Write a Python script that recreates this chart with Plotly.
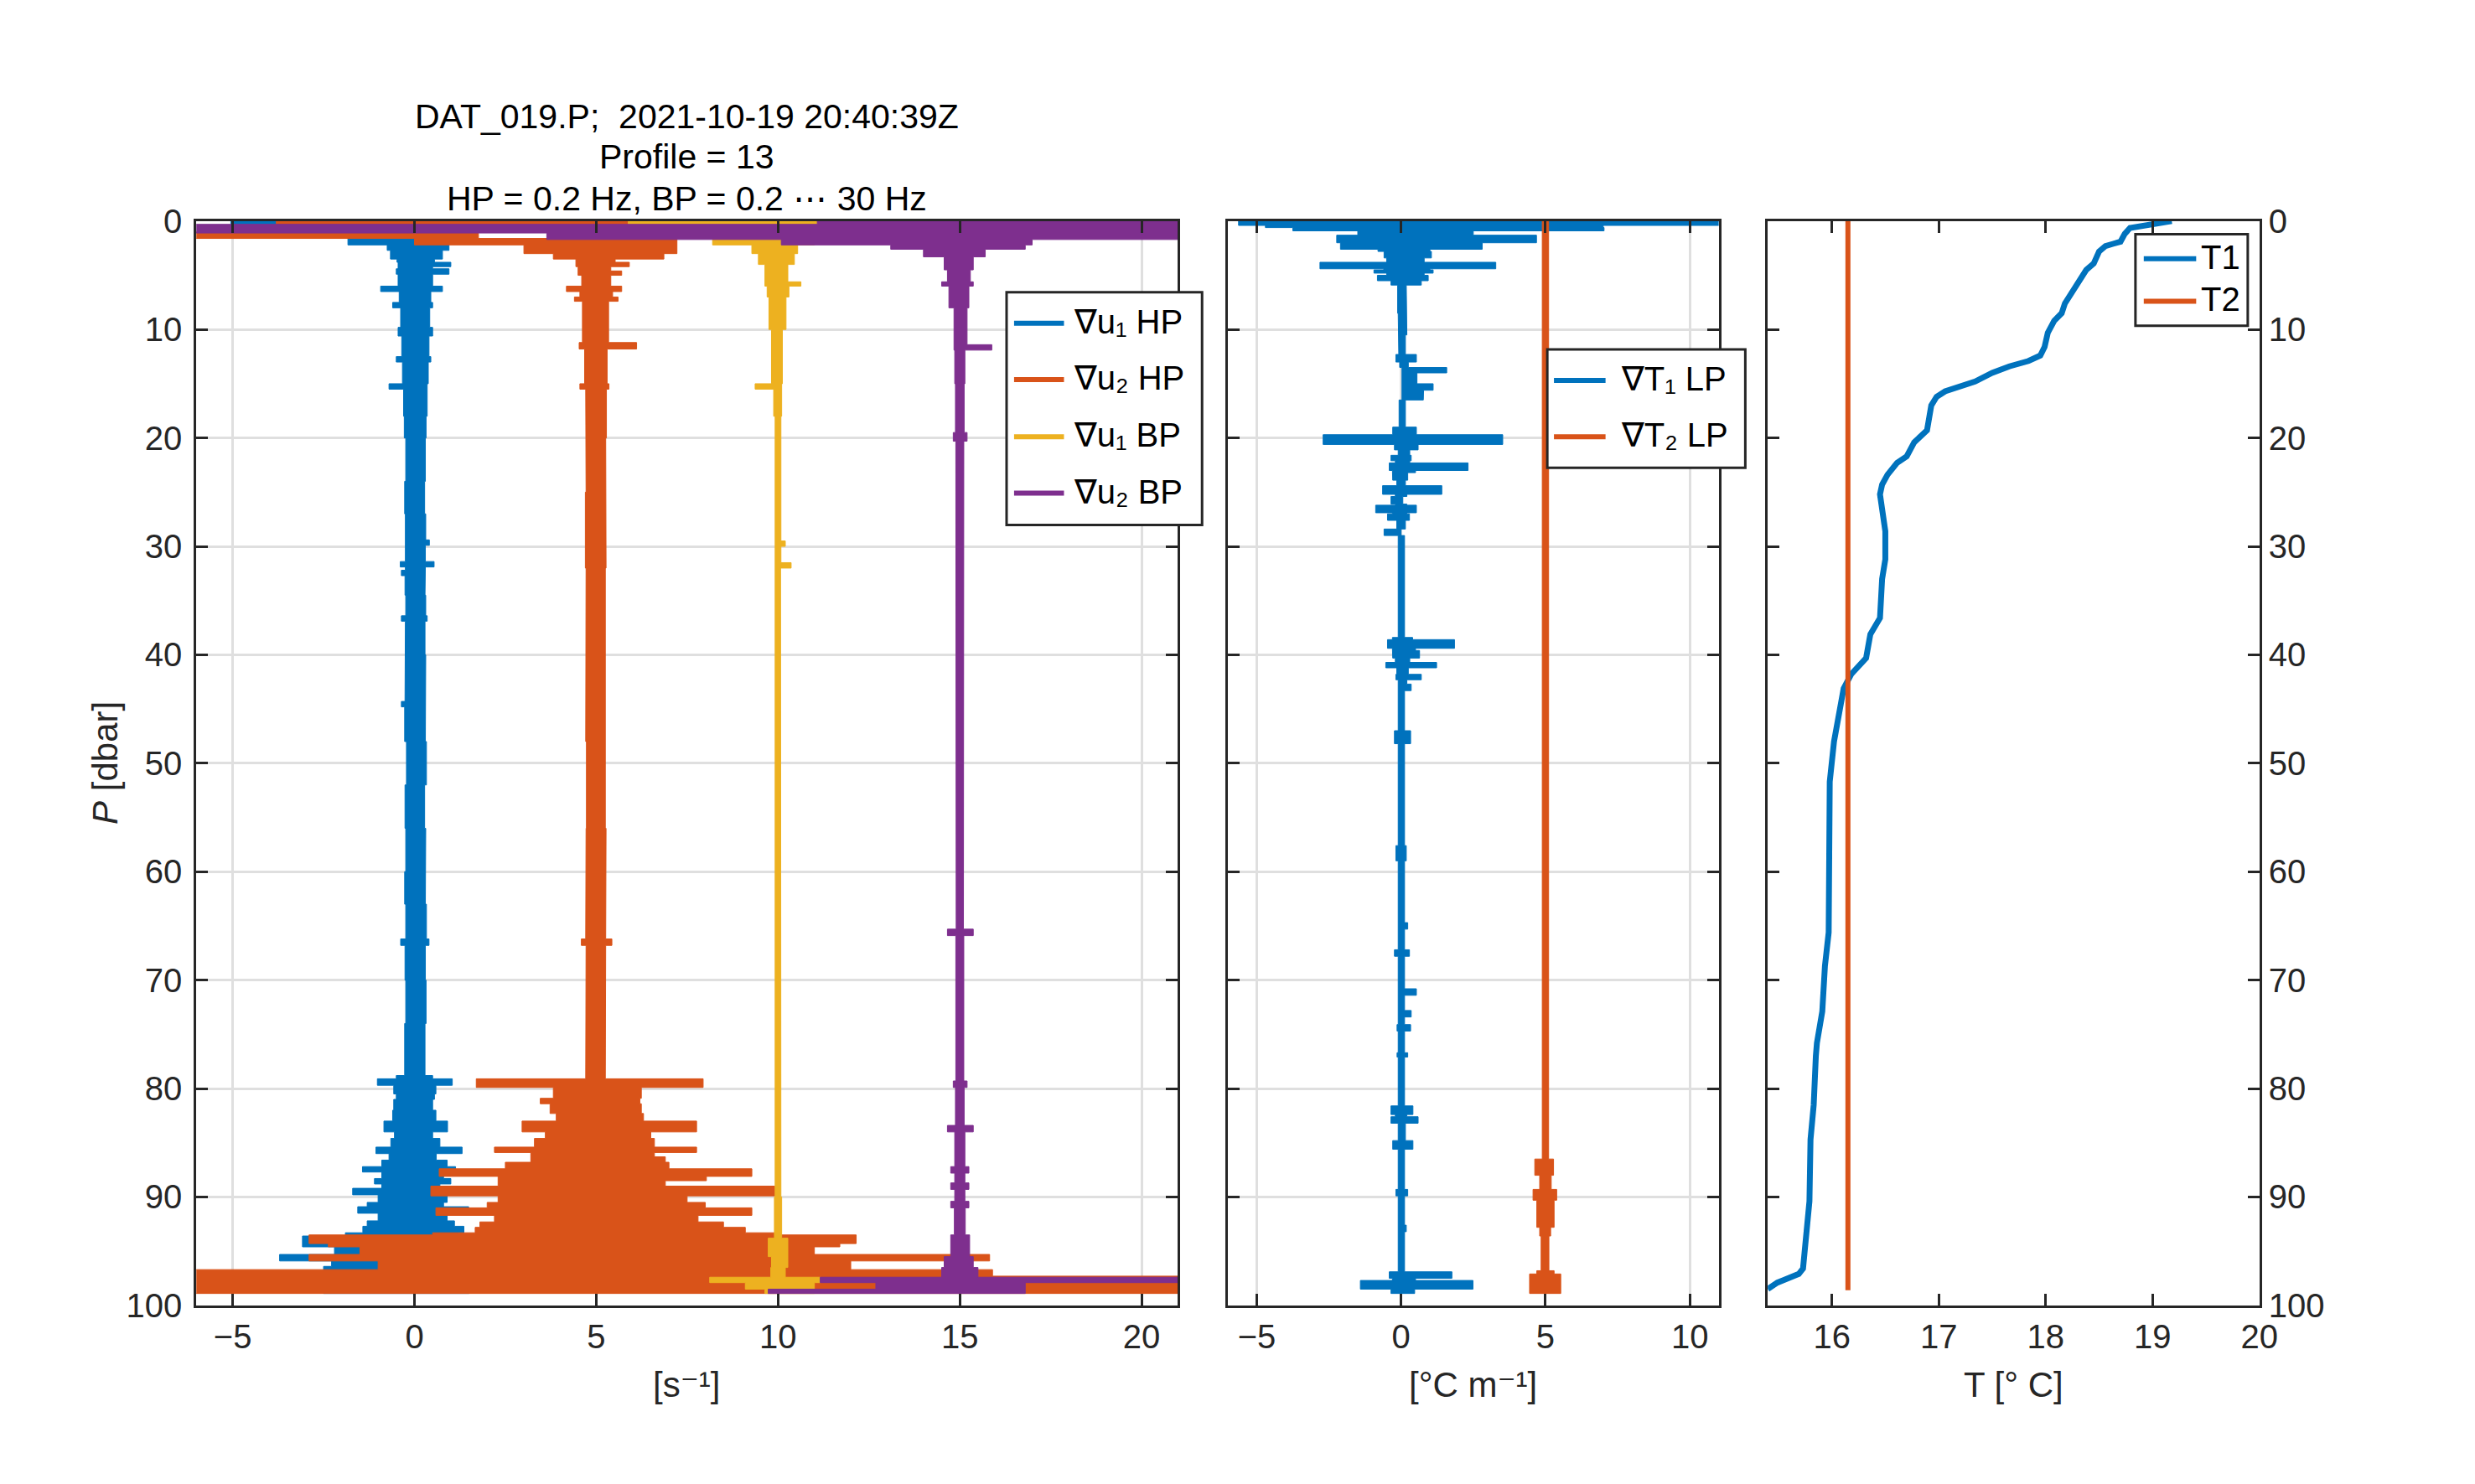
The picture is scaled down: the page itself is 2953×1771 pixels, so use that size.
import plotly.graph_objects as go

# ------------------------------------------------------------------
# DATA
# Each noisy profile is described by its envelope over depth intervals:
#   *_p  : interval boundaries [dbar]   (len n+1)
#   *_lo : left extent of the signal in each interval  (len n)
#   *_hi : right extent of the signal in each interval (len n)
# Values are as plotted (offsets 0, 5, 10, 15 already included).
# ------------------------------------------------------------------

# grad u1 HP (blue, offset 0)
u1hp_p = [0.0, 0.3, 1.5, 2.2, 2.7, 3.5, 3.8, 4.2, 4.4, 4.9,
          6.0, 6.5, 7.5, 8.0, 9.8, 10.6, 12.5, 13.0, 15.0, 15.5,
          18.0, 20.0, 24.0, 27.0, 29.4, 29.9, 31.4, 31.9, 32.2, 32.7,
          34.5, 36.4, 36.9, 40.0, 44.3, 44.8, 48.0, 52.0, 56.0, 60.0,
          63.0, 66.2, 66.8, 70.0, 74.0, 78.8, 79.1, 79.7, 80.5, 81.0,
          82.0, 83.0, 84.0, 84.6, 85.4, 86.0, 86.6, 87.2, 87.7, 88.3,
          88.8, 89.2, 89.8, 90.5, 90.9, 91.5, 92.2, 92.7, 93.3, 93.6,
          94.6, 95.3, 95.9, 96.4, 98.9]
u1hp_lo = [-5.05, -1.5, -1.83, -0.75, -0.66, -0.48, -0.45, -0.45, -0.5, -0.45,
           -0.93, -0.42, -0.6, -0.38, -0.45, -0.35, -0.5, -0.33, -0.7, -0.3,
           -0.28, -0.24, -0.27, -0.25, -0.25, -0.25, -0.39, -0.25, -0.36, -0.26,
           -0.24, -0.36, -0.25, -0.26, -0.36, -0.27, -0.22, -0.26, -0.24, -0.27,
           -0.24, -0.38, -0.26, -0.24, -0.27, -0.5, -1.02, -0.57, -0.5, -0.57,
           -0.6, -0.84, -0.55, -0.65, -1.06, -0.7, -0.9, -1.43, -0.9, -1.1,
           -0.9, -1.70, -1.0, -1.3, -1.56, -1.0, -1.3, -1.42, -1.9, -3.08,
           -2.2, -3.71, -2.28, -2.5]
u1hp_hi = [0.8, 1.0, 0.95, 0.95, 0.77, 0.55, 1.0, 0.5, 0.95, 0.5,
           0.77, 0.45, 0.5, 0.42, 0.5, 0.4, 0.45, 0.38, 0.35, 0.35,
           0.32, 0.30, 0.28, 0.31, 0.41, 0.30, 0.54, 0.30, 0.30, 0.29,
           0.31, 0.35, 0.29, 0.31, 0.30, 0.30, 0.33, 0.28, 0.31, 0.30,
           0.33, 0.40, 0.30, 0.32, 0.29, 0.5, 1.04, 0.59, 0.55, 0.5,
           0.59, 0.91, 0.5, 0.7, 1.31, 0.6, 0.9, 1.13, 0.8, 1.0,
           0.7, 1.40, 0.9, 0.8, 1.49, 0.9, 1.1, 1.36, 1.2, 1.3,
           1.3, 1.5, 1.2, 1.5]

# grad u2 HP (orange, offset 5)
u2hp_p = [0.0, 0.3, 1.0, 1.6, 2.2, 3.0, 3.5, 3.8, 4.2, 4.6,
          5.0, 6.0, 6.5, 7.0, 7.4, 11.2, 11.8, 15.0, 15.5, 20.0,
          25.0, 32.0, 40.0, 48.0, 56.0, 62.0, 66.2, 66.8, 72.0, 79.1,
          79.9, 80.9, 81.4, 82.3, 83.0, 84.0, 84.6, 85.4, 85.9, 86.3,
          86.8, 87.4, 88.1, 88.5, 89.0, 89.9, 90.5, 91.0, 91.7, 92.3,
          92.8, 93.3, 93.5, 94.3, 94.6, 95.3, 95.9, 96.7, 97.3, 98.9]
u2hp_lo = [-3.8, 0.0, -6.5, 0.0, 3.01, 3.82, 4.44, 4.44, 4.5, 4.5,
           4.6, 4.18, 4.55, 4.4, 4.62, 4.53, 4.68, 4.55, 4.71, 4.72,
           4.70, 4.72, 4.71, 4.73, 4.72, 4.71, 4.59, 4.72, 4.71, 1.70,
           3.82, 3.46, 3.73, 3.90, 2.96, 3.60, 3.30, 2.20, 3.20, 3.20,
           2.50, 0.68, 2.30, 2.30, 0.45, 2.30, 2.00, 0.59, 2.20, 1.80,
           1.67, 0.50, -2.90, -2.37, -1.50, -2.90, -1.00, -6.5, -6.5]
u2hp_hi = [5.88, 8.0, 1.76, 7.22, 7.22, 6.86, 5.52, 5.91, 5.4, 5.7,
           5.4, 5.7, 5.45, 5.6, 5.34, 6.11, 5.30, 5.35, 5.28, 5.26,
           5.27, 5.25, 5.26, 5.25, 5.27, 5.26, 5.43, 5.26, 5.25, 7.94,
           6.24, 6.20, 6.24, 6.30, 7.76, 6.50, 6.60, 7.76, 6.60, 6.90,
           7.00, 9.28, 8.03, 6.90, 9.91, 7.50, 8.00, 9.28, 7.80, 8.50,
           9.10, 10.0, 12.15, 11.7, 11.0, 15.82, 12.0, 15.9, 21.5]

# grad u1 BP (yellow, offset 10)
u1bp_p = [0.0, 0.3, 1.6, 2.2, 3.0, 4.0, 5.6, 6.0, 7.0, 10.0,
          15.0, 15.5, 18.0, 29.5, 30.0, 31.5, 32.0, 44.0, 60.0, 80.0,
          90.0, 93.8, 95.5, 96.5, 97.4, 97.9, 98.5, 98.9]
u1bp_lo = [5.88, 8.5, 8.2, 9.28, 9.46, 9.64, 9.64, 9.70, 9.75, 9.82,
           9.37, 9.88, 9.92, 9.92, 9.92, 9.92, 9.93, 9.92, 9.93, 9.92,
           9.90, 9.73, 9.82, 9.80, 8.12, 9.10, 9.64]
u1bp_hi = [11.08, 11.0, 11.0, 10.54, 10.45, 10.27, 10.63, 10.30, 10.22, 10.12,
           10.10, 10.10, 10.08, 10.20, 10.08, 10.36, 10.07, 10.07, 10.08, 10.08,
           10.10, 10.27, 10.27, 10.20, 11.16, 11.0, 11.0]

# grad u2 BP (purple, offset 15)
u2bp_p = [0.0, 0.3, 1.1, 1.7, 2.2, 2.6, 3.3, 4.5, 5.6, 6.0,
          8.0, 11.4, 11.9, 15.0, 19.5, 20.3, 40.0, 65.3, 65.9, 79.3,
          79.9, 83.4, 84.0, 87.2, 87.8, 88.7, 89.3, 90.4, 91.0, 93.5,
          95.5, 96.5, 97.4, 97.9, 98.5, 98.9]
u2bp_lo = [11.08, -6.5, 3.64, 10.09, 13.1, 14.0, 14.57, 14.66, 14.50, 14.70,
           14.84, 14.84, 14.86, 14.88, 14.82, 14.89, 14.90, 14.66, 14.89, 14.82,
           14.88, 14.66, 14.86, 14.75, 14.86, 14.75, 14.86, 14.75, 14.85, 14.75,
           14.57, 14.50, 11.16, 12.69, 9.73]
u2bp_hi = [21.5, 21.5, 21.5, 16.99, 16.8, 15.7, 15.37, 15.29, 15.37, 15.25,
           15.20, 15.88, 15.14, 15.12, 15.20, 15.11, 15.10, 15.37, 15.11, 15.20,
           15.12, 15.37, 15.14, 15.25, 15.14, 15.25, 15.14, 15.25, 15.15, 15.27,
           15.37, 15.50, 21.5, 16.8, 16.8]

# grad T1 LP (blue, offset 0)
t1lp_p = [0.0, 0.4, 0.6, 0.9, 1.3, 2.0, 2.6, 2.8, 3.4, 3.8,
          4.4, 4.5, 4.8, 5.0, 5.5, 5.9, 8.5, 10.5, 12.3, 13.0,
          13.5, 14.0, 14.4, 15.0, 15.6, 16.0, 16.5, 19.0, 19.7, 20.6,
          21.1, 21.6, 22.1, 22.3, 23.0, 23.2, 23.9, 24.4, 25.2, 25.4,
          26.1, 26.2, 26.9, 27.0, 27.6, 28.4, 29.0, 38.4, 38.6, 39.4,
          39.6, 40.3, 40.7, 41.2, 41.8, 42.3, 42.7, 43.3, 47.0, 48.2,
          57.6, 59.0, 64.7, 65.3, 67.2, 67.8, 70.8, 71.4, 72.8, 73.4,
          74.1, 74.7, 76.7, 77.1, 81.6, 82.4, 82.6, 83.2, 84.8, 85.6,
          89.3, 89.9, 92.6, 93.2, 96.9, 97.5, 97.7, 98.5, 98.9]
t1lp_lo = [-5.63, -4.7, -3.75, -1.5, -2.23, -2.1, -0.8, -0.59, -0.5, -2.81,
           -0.6, -0.94, -0.5, -0.82, -0.35, -0.12, -0.10, -0.08, -0.18, -0.05,
           0.03, 0.03, 0.03, 0.03, 0.03, 0.03, -0.07, -0.29, -2.70, -0.23,
           -0.10, -0.35, -0.20, -0.41, -0.30, -0.29, -0.15, -0.64, -0.20, -0.35,
           -0.20, -0.88, -0.30, -0.47, -0.15, -0.59, -0.10, -0.30, -0.47, -0.30,
           -0.29, -0.20, -0.53, -0.15, -0.18, -0.10, -0.12, -0.10, -0.23, -0.10,
           -0.18, -0.10, -0.10, -0.10, -0.23, -0.10, -0.12, -0.10, -0.12, -0.10,
           -0.14, -0.10, -0.14, -0.10, -0.35, -0.20, -0.35, -0.10, -0.29, -0.10,
           -0.18, -0.10, -0.12, -0.10, -0.41, -0.30, -1.41, -0.35]
t1lp_hi = [11.5, 7.0, 7.03, 2.5, 4.69, 2.81, 1.0, 1.05, 0.8, 3.28,
           1.0, 1.11, 0.8, 0.94, 0.70, 0.18, 0.20, 0.15, 0.53, 0.25,
           1.58, 0.55, 0.55, 1.11, 0.78, 0.77, 0.15, 0.53, 3.52, 0.59,
           0.30, 0.35, 0.30, 2.32, 0.50, 0.23, 0.15, 1.41, 0.20, 0.06,
           0.20, 0.53, 0.20, 0.29, 0.15, 0.00, 0.12, 0.40, 1.85, 0.50,
           0.64, 0.30, 1.23, 0.25, 0.70, 0.20, 0.35, 0.12, 0.33, 0.12,
           0.18, 0.12, 0.23, 0.12, 0.29, 0.12, 0.53, 0.12, 0.35, 0.12,
           0.33, 0.12, 0.23, 0.12, 0.41, 0.20, 0.59, 0.15, 0.41, 0.12,
           0.23, 0.12, 0.18, 0.12, 1.76, 0.50, 2.49, 0.47]

# grad T2 LP (orange, offset 5)
t2lp_p = [0.0, 20.0, 60.0, 86.5, 88.0, 89.3, 90.3, 92.8, 93.6, 96.8, 97.1, 98.9]
t2lp_lo = [4.89, 4.90, 4.89, 4.63, 4.80, 4.57, 4.70, 4.80, 4.85, 4.70, 4.45]
t2lp_hi = [5.11, 5.10, 5.11, 5.28, 5.20, 5.39, 5.30, 5.18, 5.12, 5.30, 5.53]

# Temperature profiles
T1_P = [0.0, 0.26, 0.63, 1.18, 1.9, 2.1, 2.3, 2.8, 3.9, 4.5, 5.6, 6.5, 7.6, 8.5, 9.2,
        10.3, 11.6, 12.4, 12.9, 13.4, 14.0, 14.8, 15.3, 15.7, 16.2, 17.0, 19.3, 19.7,
        20.4, 21.7, 22.3, 23.4, 24.3, 25.2, 27.1, 28.6, 31.2, 33.0, 36.6, 38.1, 40.3,
        41.4, 41.8, 43.1, 46.2, 48.0, 51.7, 55.6, 65.6, 68.7, 72.9, 75.8, 77.0, 81.5,
        84.7, 90.4, 93.9, 96.6, 97.1, 97.5, 97.9, 98.5]
T1_T = [19.18, 19.00, 18.79, 18.74, 18.70, 18.63, 18.56, 18.50, 18.45, 18.38, 18.31,
        18.24, 18.18, 18.15, 18.08, 18.02, 17.99, 17.95, 17.84, 17.66, 17.50, 17.34,
        17.20, 17.06, 16.98, 16.93, 16.89, 16.84, 16.77, 16.70, 16.61, 16.52, 16.47,
        16.45, 16.48, 16.50, 16.50, 16.47, 16.45, 16.36, 16.32, 16.23, 16.18, 16.11,
        16.05, 16.02, 15.98, 15.975, 15.97, 15.935, 15.91, 15.86, 15.85, 15.83, 15.80,
        15.79, 15.76, 15.73, 15.69, 15.57, 15.49, 15.40]
T2_P = [0.0, 98.6]
T2_T = [16.15, 16.15]

# Tick values
p_ticks = [0, 10, 20, 30, 40, 50, 60, 70, 80, 90, 100]
shear_ticks = [-5, 0, 5, 10, 15, 20]
grad_ticks = [-5, 0, 5, 10]
temp_ticks = [16, 17, 18, 19, 20]

# ------------------------------------------------------------------
# STYLE / LAYOUT
# ------------------------------------------------------------------
W, H = 2953, 1771
FONT = "Liberation Sans, Arial, Helvetica, DejaVu Sans, sans-serif"
AX = "#262626"
GRID = "#DFDFDF"
BLUE, ORANGE, YELLOW, PURPLE = "#0072BD", "#D95319", "#EDB120", "#7E2F8E"

L_X0, L_X1 = 236, 1416
M_X0, M_X1 = 1476, 2066
R_X0, R_X1 = 2125, 2716
Y_TOP, Y_BOT = 248, 1575


def fx(x):
    return x / W


def fy(y):
    return 1 - y / H


def band_polygon(p, lo, hi):
    assert len(p) == len(lo) + 1 == len(hi) + 1
    xs, ys = [], []
    for i in range(len(lo)):
        xs += [hi[i], hi[i]]
        ys += [p[i], p[i + 1]]
    for i in range(len(lo) - 1, -1, -1):
        xs += [lo[i], lo[i]]
        ys += [p[i + 1], p[i]]
    xs.append(xs[0])
    ys.append(ys[0])
    return xs, ys


fig = go.Figure()

bands = [
    ("∇u₁ HP", u1hp_p, u1hp_lo, u1hp_hi, BLUE, "x", "y"),
    ("∇u₂ HP", u2hp_p, u2hp_lo, u2hp_hi, ORANGE, "x", "y"),
    ("∇u₁ BP", u1bp_p, u1bp_lo, u1bp_hi, YELLOW, "x", "y"),
    ("∇u₂ BP", u2bp_p, u2bp_lo, u2bp_hi, PURPLE, "x", "y"),
    ("∇T₁ LP", t1lp_p, t1lp_lo, t1lp_hi, BLUE, "x2", "y2"),
    ("∇T₂ LP", t2lp_p, t2lp_lo, t2lp_hi, ORANGE, "x2", "y2"),
]
for name, p, lo, hi, col, xa, ya in bands:
    xs, ys = band_polygon(p, lo, hi)
    fig.add_trace(go.Scatter(x=xs, y=ys, mode="lines", fill="toself",
                             fillcolor=col, line=dict(color=col, width=1),
                             name=name, showlegend=False, hoverinfo="skip",
                             xaxis=xa, yaxis=ya))

fig.add_trace(go.Scatter(x=T1_T, y=T1_P, mode="lines", name="T1",
                         line=dict(color=BLUE, width=7), showlegend=False,
                         xaxis="x3", yaxis="y3"))
fig.add_trace(go.Scatter(x=T2_T, y=T2_P, mode="lines", name="T2",
                         line=dict(color=ORANGE, width=6), showlegend=False,
                         xaxis="x3", yaxis="y3"))

common = dict(showline=True, linewidth=3, linecolor=AX, mirror="ticks",
              ticks="inside", ticklen=14, tickwidth=3, tickcolor=AX,
              tickfont=dict(family=FONT, size=40, color=AX),
              zeroline=False, gridcolor=GRID, gridwidth=2.5)

ydom = [fy(Y_BOT), fy(Y_TOP)]
fig.update_layout(
    width=W, height=H, autosize=False,
    margin=dict(l=0, r=0, t=0, b=0, pad=0),
    paper_bgcolor="white", plot_bgcolor="white",
    showlegend=False,
    xaxis=dict(domain=[fx(L_X0), fx(L_X1)], range=[-6, 21], tickvals=shear_ticks,
               anchor="y", showgrid=True, **common),
    yaxis=dict(domain=ydom, range=[100, 0], tickvals=p_ticks, anchor="x",
               showgrid=True, ticklabelstandoff=6, **common),
    xaxis2=dict(domain=[fx(M_X0), fx(M_X1)], range=[-6, 11], tickvals=grad_ticks,
                anchor="y2", showgrid=True, **common),
    yaxis2=dict(domain=ydom, range=[100, 0], tickvals=p_ticks, anchor="x2",
                showticklabels=False, showgrid=True, **common),
    xaxis3=dict(domain=[fx(R_X0), fx(R_X1)], range=[15.4, 20], tickvals=temp_ticks,
                anchor="y3", showgrid=False, **common),
    yaxis3=dict(domain=ydom, range=[100, 0], tickvals=p_ticks, anchor="x3",
                side="right", showgrid=False, **common),
)

ann = []
# title (three lines)
title_lines = ["DAT_019.P;\u00a0 2021-10-19 20:40:39Z", "Profile = 13",
               "HP = 0.2 Hz, BP = 0.2 ⋯ 30 Hz"]
for txt, yc in zip(title_lines, [120, 169, 220]):
    ann.append(dict(text=txt, x=fx((L_X0 + L_X1) / 2), y=fy(yc), xref="paper",
                    yref="paper", xanchor="center", yanchor="middle", showarrow=False,
                    font=dict(family=FONT, size=41, color="black")))
# axis labels
ann.append(dict(text="<i>P</i> [dbar]", x=fx(127), y=fy((Y_TOP + Y_BOT) / 2),
                xref="paper", yref="paper", textangle=-90, xanchor="center",
                yanchor="middle", showarrow=False,
                font=dict(family=FONT, size=42, color=AX)))
for txt, xc in [("[s⁻¹]", (L_X0 + L_X1) / 2),
                ("[°C m⁻¹]", (M_X0 + M_X1) / 2),
                ("T [° C]", (R_X0 + R_X1) / 2)]:
    ann.append(dict(text=txt, x=fx(xc), y=fy(1672), xref="paper", yref="paper",
                    xanchor="center", yanchor="middle", showarrow=False,
                    font=dict(family=FONT, size=42, color=AX)))

shapes = []


def add_legend(box, line_x, text_x, entries, size=40):
    x0, y0, x1, y1 = box
    shapes.append(dict(type="rect", xref="paper", yref="paper",
                       x0=fx(x0), x1=fx(x1), y0=fy(y1), y1=fy(y0),
                       line=dict(color=AX, width=3), fillcolor="white", layer="above"))
    for label, col, yc in entries:
        shapes.append(dict(type="line", xref="paper", yref="paper",
                           x0=fx(line_x[0]), x1=fx(line_x[1]), y0=fy(yc), y1=fy(yc),
                           line=dict(color=col, width=6), layer="above"))
        ann.append(dict(text=label, x=fx(text_x), y=fy(yc - 2), xref="paper",
                        yref="paper", xanchor="left", yanchor="middle",
                        showarrow=False,
                        font=dict(family=FONT, size=size, color="black")))


add_legend((1210, 335, 1445, 620), (1219, 1279), 1289,
           [("∇u₁ HP", BLUE, 373), ("∇u₂ HP", ORANGE, 442),
            ("∇u₁ BP", YELLOW, 512), ("∇u₂ BP", PURPLE, 581)])
add_legend((1860, 405, 2098, 550), (1868, 1930), 1947,
           [("∇T₁ LP", BLUE, 443), ("∇T₂ LP", ORANGE, 512)])
add_legend((2567, 264, 2702, 376), (2577, 2640), 2644,
           [("T1", BLUE, 294), ("T2", ORANGE, 346)])

fig.update_layout(annotations=ann, shapes=shapes)

fig.write_html("out.html", config={"displayModeBar": False},
               post_script="document.body.style.margin='0';"
                           "document.body.style.overflow='hidden';")
